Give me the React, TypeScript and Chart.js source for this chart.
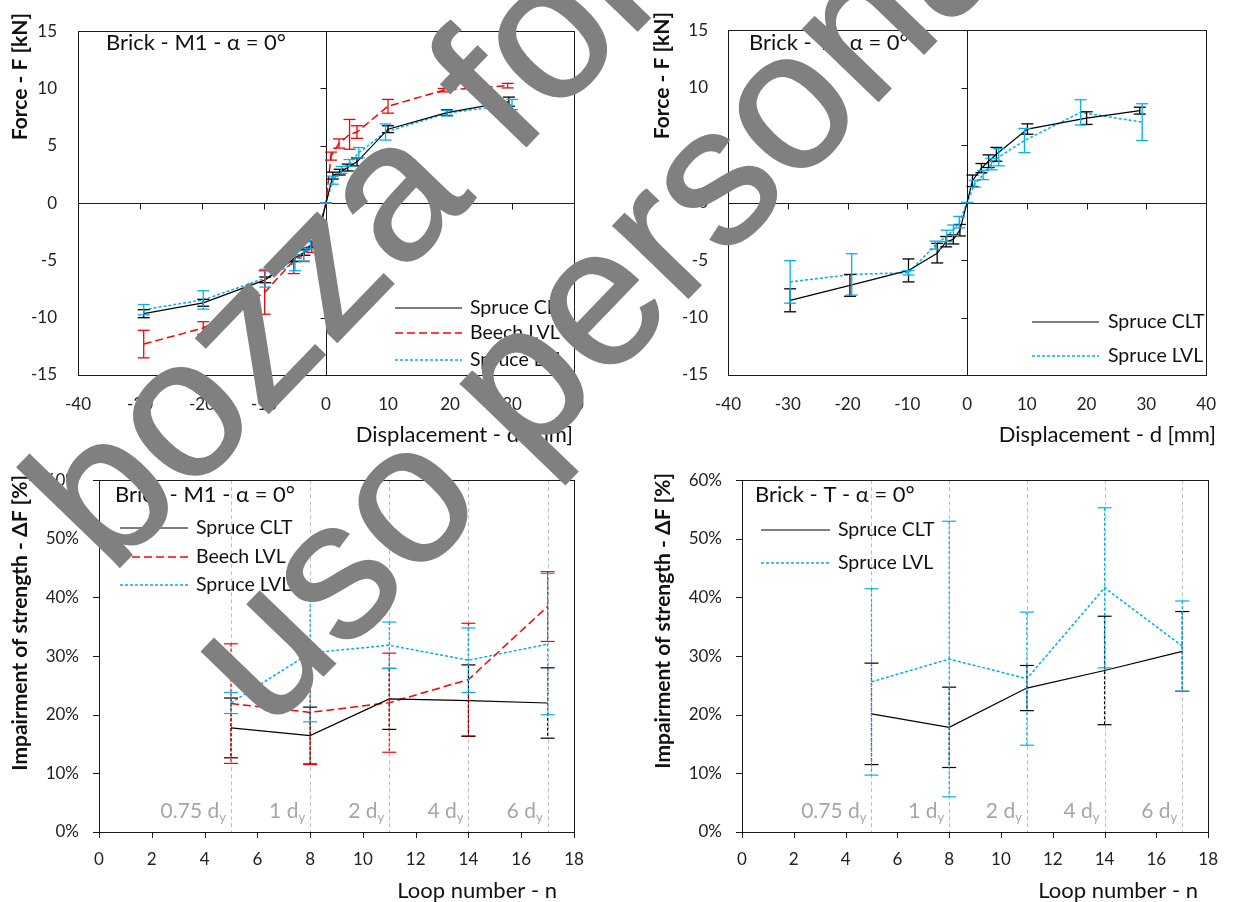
import React, { useEffect, useRef } from "react";
import { Chart, registerables } from "chart.js";

Chart.register(...registerables);

const FONT = "Lato, 'Open Sans', 'DejaVu Sans', sans-serif";

// ---------------- DATA ----------------
// Brick - M1 - α = 0°  (force – displacement envelopes)
const m1DispCLT = [-29.4, -19.8, -9.8, -5.0, -3.5, -2.3, -1.1, 0, 1.1, 2.2, 3.5, 5.0, 10.0, 19.5, 29.5];
const m1ForceCLT = [-9.65, -8.7, -6.7, -4.8, -4.3, -3.6, -2.5, 0, 2.4, 2.7, 3.1, 3.6, 6.45, 7.9, 8.85];
const m1ErrCLT = [0.35, 0.3, 0.25, 0.3, 0.25, 0.25, 0.2, 0, 0.3, 0.25, 0.3, 0.35, 0.3, 0.25, 0.4];

const m1DispBeech = [-29.4, -19.8, -9.9, -5.2, -3.6, -2.3, -1.1, 0, 0.8, 2.1, 3.8, 5.0, 10.0, 19.0, 29.3];
const m1ForceBeech = [-12.3, -10.9, -7.8, -5.0, -4.5, -3.8, -2.4, 0, 4.1, 5.2, 6.0, 6.2, 8.45, 9.85, 10.25];
const m1ErrBeech = [1.2, 0.55, 1.9, 1.15, 0.6, 0.5, 0.4, 0, 0.35, 0.4, 1.3, 0.55, 0.6, 0.15, 0.2];

const m1DispSLVL = [-29.4, -19.8, -9.8, -5.0, -3.6, -2.5, -1.2, 0, 1.1, 2.5, 3.8, 5.3, 9.6, 19.5, 30.0];
const m1ForceSLVL = [-9.3, -8.45, -6.55, -5.2, -4.6, -3.5, -2.2, 0, 2.0, 2.9, 3.5, 4.4, 6.2, 7.85, 8.6];
const m1ErrSLVL = [0.45, 0.8, 0.78, 0.7, 0.45, 0.5, 0.6, 0, 0.35, 0.3, 0.3, 0.45, 0.7, 0.25, 0.45];

// Brick - T - α = 0°  (force – displacement envelopes)
const tDispCLT = [-29.6, -19.6, -9.8, -5.0, -3.5, -2.3, -1.2, 0, 0.9, 2.4, 3.6, 4.9, 10.1, 20.0, 28.9];
const tForceCLT = [-8.5, -7.2, -5.9, -4.4, -3.4, -3.2, -2.4, 0, 1.9, 3.0, 3.6, 4.2, 6.4, 7.35, 8.0];
const tErrCLT = [1.0, 0.95, 1.0, 0.85, 0.45, 0.4, 0.5, 0, 0.5, 0.4, 0.55, 0.6, 0.45, 0.55, 0.3];

const tDispSLVL = [-29.6, -19.3, -9.8, -5.3, -3.4, -2.3, -1.3, 0, 1.3, 2.7, 4.1, 5.3, 9.6, 19.0, 29.3];
const tForceSLVL = [-6.9, -6.25, -6.1, -3.7, -2.9, -2.4, -1.7, 0, 1.65, 2.4, 3.35, 3.95, 5.4, 7.85, 7.0];
const tErrSLVL = [1.85, 1.8, 0.2, 0.35, 0.5, 0.45, 0.5, 0, 0.3, 0.4, 0.5, 0.75, 1.05, 1.1, 1.6];

// Impairment of strength vs loop number
const loopNumbers = [5, 8, 11, 14, 17];
const m1LossCLT = [17.75, 16.45, 22.7, 22.4, 22.0];
const m1LossErrCLT = [5.1, 4.85, 5.2, 6.1, 6.0];
const m1LossBeech = [21.9, 20.4, 22.05, 26.0, 38.45];
const m1LossErrBeech = [10.2, 8.9, 8.45, 9.6, 5.95];
const m1LossSLVL = [22.0, 30.55, 31.85, 29.3, 32.05];
const m1LossErrSLVL = [1.8, 11.75, 3.95, 5.5, 12.05];

const tLossCLT = [20.15, 17.85, 24.55, 27.55, 30.8];
const tLossErrCLT = [8.65, 6.85, 3.85, 9.25, 6.8];
const tLossSLVL = [25.6, 29.5, 26.15, 41.65, 31.7];
const tLossErrSLVL = [15.9, 23.5, 11.35, 13.65, 7.7];

// amplitude levels (vertical guides at loop numbers)
const levelLoops = [5, 8, 11, 14, 17];
const levelLabels = ["0.75", "1", "2", "4", "6"];

const seriesNames = ["Spruce CLT", "Beech LVL", "Spruce LVL"];
const forceXRange = [-40, 40, 10];
const forceYRange = [-15, 15, 5];
const lossXRange = [0, 18, 2];
const lossYRange = [0, 60, 10];

const watermarkLines = ["bozza for", "uso personale"];

// ---------------- STYLES ----------------
const STYLE_CLT = { color: "#000000", dash: [] as number[], width: 1.2 };
const STYLE_BEECH = { color: "#FF0000", dash: [8, 4], width: 1.5 };
const STYLE_SLVL = { color: "#00B0F0", dash: [3, 2], width: 1.5 };
const TEXT = "#111111";
const TICK = "#222222";
const AXIS = "#1a1a1a";
const GUIDE = "#BFBFBF";
const LEVEL_TEXT = "#A6A6A6";

type Series = { label: string; xs: number[]; ys: number[]; errs: number[]; color: string; dash: number[]; width: number };
type PanelDef = {
  kind: "force" | "loss";
  box: { x: number; y: number; w: number; h: number };
  area: { l: number; t: number; r: number; b: number };
  xRange: number[];
  yRange: number[];
  series: Series[];
  note: { text: string; x: number; y: number };
  legend: { x1: number; x2: number; tx: number; rows: number[] };
  xTitle: { text: string; right: number; y: number };
  yTitle: { text: string; x: number; top: number };
  yPad: number;
  xPad: number;
};

const mk = (label: string, xs: number[], ys: number[], errs: number[], st: { color: string; dash: number[]; width: number }): Series => ({
  label, xs, ys, errs, color: st.color, dash: st.dash, width: st.width,
});

const panels: PanelDef[] = [
  {
    kind: "force",
    box: { x: 0, y: 0, w: 620, h: 450 },
    area: { l: 78, t: 18, r: 574, b: 375 },
    xRange: forceXRange, yRange: forceYRange,
    series: [
      mk(seriesNames[0], m1DispCLT, m1ForceCLT, m1ErrCLT, STYLE_CLT),
      mk(seriesNames[1], m1DispBeech, m1ForceBeech, m1ErrBeech, STYLE_BEECH),
      mk(seriesNames[2], m1DispSLVL, m1ForceSLVL, m1ErrSLVL, STYLE_SLVL),
    ],
    note: { text: "Brick - M1 - α = 0°", x: 106, y: 43 },
    legend: { x1: 395, x2: 462, tx: 470, rows: [308, 333, 360] },
    xTitle: { text: "Displacement - d [mm]", right: 573, y: 435 },
    yTitle: { text: "Force - F [kN]", x: 20, top: 13 },
    yPad: 21, xPad: 19,
  },
  {
    kind: "force",
    box: { x: 620, y: 0, w: 615, h: 450 },
    area: { l: 728, t: 18, r: 1217, b: 375 },
    xRange: forceXRange, yRange: forceYRange,
    series: [
      mk(seriesNames[0], tDispCLT, tForceCLT, tErrCLT, STYLE_CLT),
      mk(seriesNames[2], tDispSLVL, tForceSLVL, tErrSLVL, STYLE_SLVL),
    ],
    note: { text: "Brick - T - α = 0°", x: 749, y: 43 },
    legend: { x1: 1032, x2: 1099, tx: 1108, rows: [322, 356] },
    xTitle: { text: "Displacement - d [mm]", right: 1216, y: 435 },
    yTitle: { text: "Force - F [kN]", x: 662, top: 12 },
    yPad: 20, xPad: 19,
  },
  {
    kind: "loss",
    box: { x: 0, y: 450, w: 620, h: 452 },
    area: { l: 99, t: 475, r: 574, b: 832 },
    xRange: lossXRange, yRange: lossYRange,
    series: [
      mk(seriesNames[0], loopNumbers, m1LossCLT, m1LossErrCLT, STYLE_CLT),
      mk(seriesNames[1], loopNumbers, m1LossBeech, m1LossErrBeech, STYLE_BEECH),
      mk(seriesNames[2], loopNumbers, m1LossSLVL, m1LossErrSLVL, STYLE_SLVL),
    ],
    note: { text: "Brick - M1 - α = 0°", x: 115, y: 495 },
    legend: { x1: 120, x2: 188, tx: 196, rows: [528, 557, 585] },
    xTitle: { text: "Loop number - n", right: 557, y: 891 },
    yTitle: { text: "Impairment of strength - ΔF [%]", x: 20, top: 475 },
    yPad: 20, xPad: 17,
  },
  {
    kind: "loss",
    box: { x: 620, y: 450, w: 615, h: 452 },
    area: { l: 742, t: 475, r: 1217, b: 832 },
    xRange: lossXRange, yRange: lossYRange,
    series: [
      mk(seriesNames[0], loopNumbers, tLossCLT, tLossErrCLT, STYLE_CLT),
      mk(seriesNames[2], loopNumbers, tLossSLVL, tLossErrSLVL, STYLE_SLVL),
    ],
    note: { text: "Brick - T - α = 0°", x: 755, y: 495 },
    legend: { x1: 761, x2: 830, tx: 838, rows: [530, 563] },
    xTitle: { text: "Loop number - n", right: 1198, y: 891 },
    yTitle: { text: "Impairment of strength - ΔF [%]", x: 663, top: 473 },
    yPad: 20, xPad: 17,
  },
];

// ---------------- DRAW HELPERS ----------------
const crisp = (v: number) => Math.round(v) + 0.5;
function seg(ctx: CanvasRenderingContext2D, x1: number, y1: number, x2: number, y2: number) {
  ctx.beginPath();
  ctx.moveTo(x1, y1);
  ctx.lineTo(x2, y2);
  ctx.stroke();
}
function txt(ctx: CanvasRenderingContext2D, s: string, x: number, y: number, size: number, color: string, align: CanvasTextAlign = "left", weight = "normal") {
  ctx.font = `${weight} ${size}px ${FONT}`;
  ctx.fillStyle = color;
  ctx.textAlign = align;
  ctx.textBaseline = "middle";
  ctx.fillText(s, x, y);
}

function makeDecor(p: PanelDef) {
  const ox = p.box.x;
  const oy = p.box.y;
  return {
    id: "decor",
    beforeDatasetsDraw(chart: any) {
      const { ctx, chartArea: a, scales } = chart;
      const xs = scales.x;
      const ys = scales.y;
      ctx.save();
      ctx.lineWidth = 1;
      if (p.kind === "loss") {
        ctx.strokeStyle = GUIDE;
        ctx.setLineDash([4, 3]);
        for (const g of levelLoops) {
          const px = crisp(xs.getPixelForValue(g));
          seg(ctx, px, a.top, px, a.bottom);
        }
        ctx.setLineDash([]);
        ctx.strokeStyle = AXIS;
        ctx.strokeRect(crisp(a.left), crisp(a.top), Math.round(a.right - a.left), Math.round(a.bottom - a.top));
        for (let v = p.yRange[0]; v <= p.yRange[1]; v += p.yRange[2]) {
          const py = crisp(ys.getPixelForValue(v));
          seg(ctx, a.left - 6, py, a.left, py);
        }
        for (let v = p.xRange[0]; v <= p.xRange[1]; v += p.xRange[2]) {
          const px = crisp(xs.getPixelForValue(v));
          seg(ctx, px, a.bottom, px, a.bottom + 6);
        }
      } else {
        ctx.strokeStyle = AXIS;
        ctx.strokeRect(crisp(a.left), crisp(a.top), Math.round(a.right - a.left), Math.round(a.bottom - a.top));
        const x0 = crisp(xs.getPixelForValue(0));
        const y0 = crisp(ys.getPixelForValue(0));
        seg(ctx, a.left, y0, a.right, y0);
        seg(ctx, x0, a.top, x0, a.bottom);
        for (let v = p.xRange[0]; v <= p.xRange[1]; v += p.xRange[2]) {
          const px = crisp(xs.getPixelForValue(v));
          seg(ctx, px, y0, px, y0 + 6);
        }
        for (let v = p.yRange[0]; v <= p.yRange[1]; v += p.yRange[2]) {
          const py = crisp(ys.getPixelForValue(v));
          seg(ctx, x0 - 6, py, x0, py);
        }
      }
      ctx.restore();
    },
    afterDatasetsDraw(chart: any) {
      const { ctx, scales } = chart;
      const xs = scales.x;
      const ys = scales.y;
      const cap = p.kind === "force" ? 6 : 7;
      ctx.save();
      chart.data.datasets.forEach((ds: any) => {
        const errs: number[] = ds.errors || [];
        ctx.strokeStyle = ds.borderColor;
        ctx.lineWidth = p.kind === "force" ? 1.3 : 1.2;
        ds.data.forEach((pt: any, j: number) => {
          const e = errs[j] || 0;
          const px = xs.getPixelForValue(pt.x);
          const yt = ys.getPixelForValue(pt.y + e);
          const yb = ys.getPixelForValue(pt.y - e);
          ctx.setLineDash(p.kind === "loss" ? [3, 2] : []);
          if (e > 0) seg(ctx, px, yt, px, yb);
          ctx.setLineDash([]);
          seg(ctx, px - cap, yt, px + cap, yt);
          seg(ctx, px - cap, yb, px + cap, yb);
        });
      });
      ctx.restore();
    },
    afterDraw(chart: any) {
      const { ctx, scales } = chart;
      const xs = scales.x;
      ctx.save();
      // annotation
      txt(ctx, p.note.text, p.note.x - ox, p.note.y - oy, 22, TEXT, "left");
      // legend
      chart.data.datasets.forEach((ds: any, i: number) => {
        const ry = p.legend.rows[i] - oy;
        ctx.strokeStyle = ds.borderColor;
        ctx.lineWidth = ds.borderWidth;
        ctx.setLineDash(ds.borderDash || []);
        seg(ctx, p.legend.x1 - ox, ry, p.legend.x2 - ox, ry);
        ctx.setLineDash([]);
        txt(ctx, ds.label, p.legend.tx - ox, ry, 19.5, TEXT, "left");
      });
      // axis titles
      txt(ctx, p.xTitle.text, p.xTitle.right - ox, p.xTitle.y - oy, 22, TEXT, "right");
      ctx.save();
      ctx.translate(p.yTitle.x - ox, p.yTitle.top - oy);
      ctx.rotate(-Math.PI / 2);
      txt(ctx, p.yTitle.text, 0, 0, 21, TEXT, "right", "bold");
      ctx.restore();
      // amplitude level labels
      if (p.kind === "loss") {
        const yc = 811 - oy;
        levelLoops.forEach((g, i) => {
          const right = xs.getPixelForValue(g) - 5;
          ctx.font = `13px ${FONT}`;
          const wSub = ctx.measureText("y").width;
          const main = `${levelLabels[i]} d`;
          ctx.font = `21px ${FONT}`;
          const wMain = ctx.measureText(main).width;
          txt(ctx, main, right - wSub - wMain, yc, 21, LEVEL_TEXT, "left");
          txt(ctx, "y", right - wSub, yc + 7, 13, LEVEL_TEXT, "left");
        });
      }
      ctx.restore();
    },
  };
}

function buildConfig(p: PanelDef): any {
  const areaL = p.area.l - p.box.x;
  const areaT = p.area.t - p.box.y;
  const areaR = p.area.r - p.box.x;
  const areaB = p.area.b - p.box.y;
  const tickFont = { family: FONT, size: 17 };
  const yTicks: any = { stepSize: p.yRange[2], font: tickFont, color: TICK, padding: p.yPad, autoSkip: false };
  if (p.kind === "loss") yTicks.callback = (v: number) => `${v}%`;
  return {
    type: "line",
    data: {
      datasets: p.series.map((s) => ({
        label: s.label,
        data: s.xs.map((x, i) => ({ x, y: s.ys[i] })),
        errors: s.errs,
        borderColor: s.color,
        backgroundColor: s.color,
        borderWidth: s.width,
        borderDash: s.dash,
        pointRadius: 0,
        pointHoverRadius: 0,
        tension: 0,
        fill: false,
      })),
    },
    options: {
      responsive: false,
      animation: false,
      events: [],
      layout: { padding: { left: 0, top: areaT, right: p.box.w - areaR, bottom: 0 } },
      plugins: { legend: { display: false }, tooltip: { enabled: false } },
      scales: {
        x: {
          type: "linear",
          position: "bottom",
          min: p.xRange[0],
          max: p.xRange[1],
          ticks: { stepSize: p.xRange[2], font: tickFont, color: TICK, padding: p.xPad, maxRotation: 0, autoSkip: false },
          grid: { display: false, drawTicks: false },
          border: { display: false },
          afterFit: (s: any) => { s.height = p.box.h - areaB; },
        },
        y: {
          type: "linear",
          position: "left",
          min: p.yRange[0],
          max: p.yRange[1],
          ticks: yTicks,
          grid: { display: false, drawTicks: false },
          border: { display: false },
          afterFit: (s: any) => { s.width = areaL; },
        },
      },
    },
    plugins: [makeDecor(p)],
  };
}

function ChartPanel({ panel }: { panel: PanelDef }) {
  const ref = useRef<HTMLCanvasElement>(null);
  useEffect(() => {
    if (!ref.current) return;
    const chart = new Chart(ref.current, buildConfig(panel));
    return () => chart.destroy();
  }, [panel]);
  return (
    <canvas
      ref={ref}
      width={panel.box.w}
      height={panel.box.h}
      style={{ position: "absolute", left: panel.box.x, top: panel.box.y, width: panel.box.w, height: panel.box.h }}
    />
  );
}

const WM = { size: 197, angle: -46, color: "#808080", starts: [[111, 576], [268, 733]] };

export default function App() {
  return (
    <div style={{ position: "absolute", left: 0, top: 0, width: 1235, height: 902, background: "#ffffff", overflow: "hidden" }}>
      {panels.map((p, i) => (
        <ChartPanel key={i} panel={p} />
      ))}
      <svg width={1235} height={902} style={{ position: "absolute", left: 0, top: 0, pointerEvents: "none" }}>
        {watermarkLines.map((line, i) => (
          <text
            key={i}
            x={WM.starts[i][0]}
            y={WM.starts[i][1]}
            transform={`rotate(${WM.angle} ${WM.starts[i][0]} ${WM.starts[i][1]})`}
            fill={WM.color}
            stroke={WM.color}
            strokeWidth={2}
            fontSize={WM.size}
            fontFamily="'Liberation Sans', Arial, sans-serif"
          >
            {line}
          </text>
        ))}
      </svg>
    </div>
  );
}
